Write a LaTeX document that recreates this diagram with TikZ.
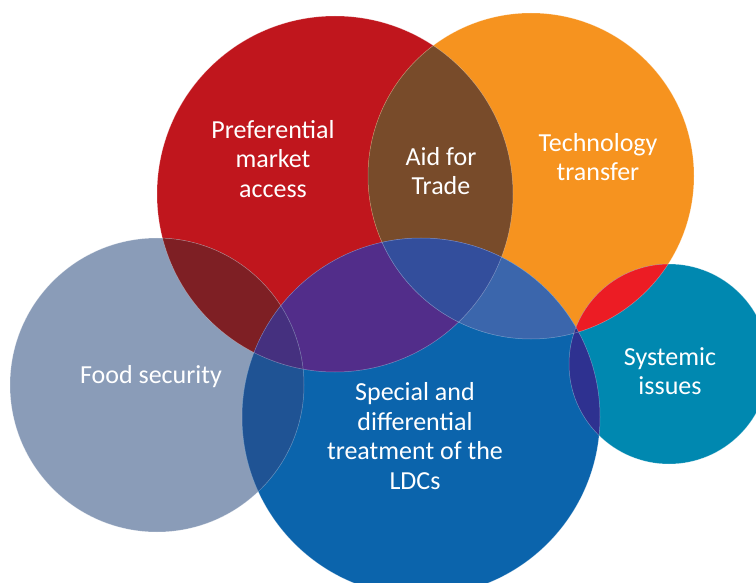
\documentclass[tikz,border=0pt]{standalone}
\usepackage{fontspec}
\setmainfont{Carlito}
\definecolor{cred}{HTML}{C0161D}
\definecolor{corange}{HTML}{F6931F}
\definecolor{cgrey}{HTML}{8A9CB8}
\definecolor{cblue}{HTML}{0B64AC}
\definecolor{cteal}{HTML}{0088B0}
\definecolor{cbrown}{HTML}{784B2A}
\definecolor{cdarkred}{HTML}{7E1F24}
\definecolor{cpurple}{HTML}{522D8A}
\definecolor{cob}{HTML}{3B66AC}
\definecolor{cgb}{HTML}{1F5394}
\definecolor{cot}{HTML}{EC1C24}
\definecolor{cbt}{HTML}{2E3190}
\definecolor{crob}{HTML}{334E9C}
\definecolor{crgb}{HTML}{45307F}
\definecolor{cobt}{HTML}{2B2F86}
\tikzset{
  lbl/.style={text=white, align=center, font=\fontsize{26}{29.5}\selectfont, inner sep=0pt},
  rim/.style={draw=white, draw opacity=0.35, line width=0.5pt}
}
\newcommand{\cR}{(335,194) circle[radius=178]}
\newcommand{\cO}{(531,176) circle[radius=163]}
\newcommand{\cG}{(157,385) circle[radius=147]}
\newcommand{\cB}{(421,417) circle[radius=179]}
\newcommand{\cT}{(669,364) circle[radius=100]}
\begin{document}
\begin{tikzpicture}[x=1pt,y=-1pt]
\useasboundingbox (0,0) rectangle (756,583);
\begin{scope}
\clip (0,0) rectangle (756,583);
% base circles
\fill[cred] \cR;
\fill[corange] \cO;
\fill[cgrey] \cG;
\fill[cblue] \cB;
\fill[cteal] \cT;
% pairwise overlaps
\begin{scope}\clip \cR; \fill[cbrown] \cO; \end{scope}
\begin{scope}\clip \cR; \fill[cdarkred] \cG; \end{scope}
\begin{scope}\clip \cR; \fill[cpurple] \cB; \end{scope}
\begin{scope}\clip \cO; \fill[cob] \cB; \end{scope}
\begin{scope}\clip \cG; \fill[cgb] \cB; \end{scope}
\begin{scope}\clip \cO; \fill[cot] \cT; \end{scope}
\begin{scope}\clip \cB; \fill[cbt] \cT; \end{scope}
% triple overlaps
\begin{scope}\clip \cR; \clip \cO; \fill[crob] \cB; \end{scope}
\begin{scope}\clip \cR; \clip \cG; \fill[crgb] \cB; \end{scope}
\begin{scope}\clip \cO; \clip \cB; \fill[cobt] \cT; \end{scope}
% faint rims
\path[rim] \cR; \path[rim] \cO; \path[rim] \cG; \path[rim] \cB; \path[rim] \cT;
\end{scope}
% labels
\node[lbl] (pma) at (273,159) {Preferential\\market\\access};
\node[lbl] (aft) at (441,171) {Aid for\\Trade};
\node[lbl] (tt) at (598,157) {Technology\\transfer};
\node[lbl] (fs) at (151,377) {Food security};
\node[lbl] (sdt) at (415,436) {Special and\\differential\\treatment of the\\LDCs};
\node[lbl] (si) at (670,371) {Systemic\\issues};
\end{tikzpicture}
\end{document}
